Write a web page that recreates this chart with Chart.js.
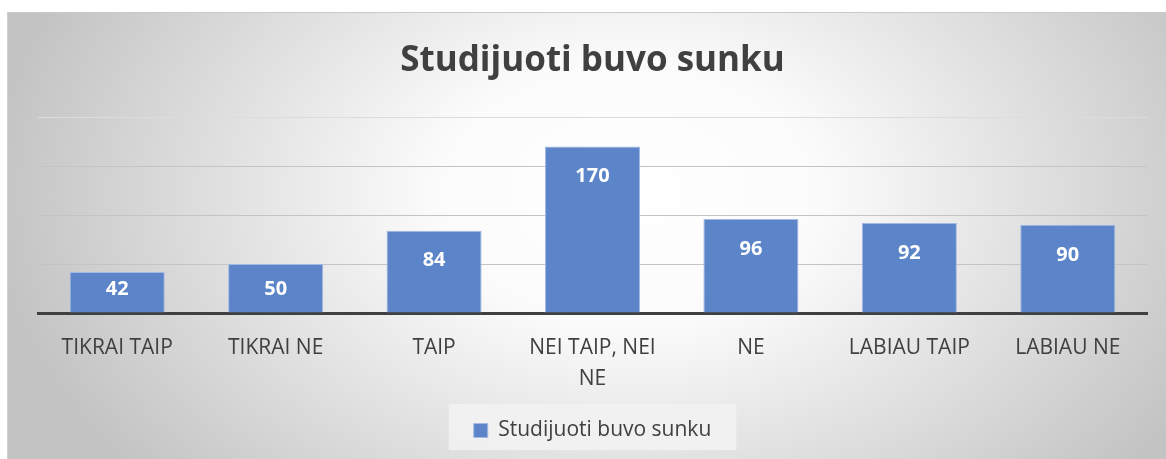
<!DOCTYPE html>
<html>
<head>
<meta charset="utf-8">
<script src="https://cdn.jsdelivr.net/npm/chart.js@4/dist/chart.umd.min.js"></script>
<style>
  html, body { margin: 0; padding: 0; background: #fff; }
  #frame {
    position: absolute; left: 7px; top: 12px; width: 1170px; height: 446px;
    border-top: 1px solid #c9c9c9; border-left: 1px solid #d0d0d0;
    background: radial-gradient(ellipse 640px 440px at 620px 180px, #ffffff 0%, #fbfbfb 30%, #c3c3c3 100%);
  }
  #wrap { position: absolute; left: 0; top: 0; width: 1166px; height: 459px; }
</style>
</head>
<body>
<div id="frame"></div>
<div id="wrap"><canvas id="chart" width="1166" height="459"></canvas></div>
<script>
/* ================= DATA ================= */
const categories = ["TIKRAI TAIP", "TIKRAI NE", "TAIP", ["NEI TAIP, NEI", "NE"], "NE", "LABIAU TAIP", "LABIAU NE"];
const seriesName = "Studijuoti buvo sunku";
const values = [42, 50, 84, 170, 96, 92, 90];
const yTicks = [0, 50, 100, 150, 200];

/* ================= STYLE ================= */
const TEXT = "#404040";
const BAR = "#5b84c9";
const FONT = "'Open Sans', 'Noto Sans', sans-serif";

/* ================= PLUGINS ================= */
// white value labels inside the top of each bar
const valueLabels = {
  id: "valueLabels",
  afterDatasetsDraw(chart) {
    const ctx = chart.ctx;
    const base = chart.scales.y.getPixelForValue(0);
    ctx.save();
    ctx.fillStyle = "#ffffff";
    ctx.font = "bold 20px " + FONT;
    ctx.textAlign = "center";
    ctx.textBaseline = "middle";
    chart.getDatasetMeta(0).data.forEach((bar, i) => {
      const y = Math.min(bar.y + 30, base - 24);
      ctx.fillText(String(values[i]), bar.x, y);
    });
    ctx.restore();
  },
};

// light box behind the legend item
const legendBox = {
  id: "legendBox",
  beforeDraw(chart) {
    const lg = chart.legend;
    if (!lg || !lg.legendHitBoxes || !lg.legendHitBoxes.length) return;
    const hb = lg.legendHitBoxes[0];
    const ctx = chart.ctx;
    ctx.save();
    ctx.fillStyle = "rgba(242,242,242,0.9)";
    ctx.fillRect(hb.left - 25, hb.top - 16, hb.width + 50, 46);
    ctx.restore();
  },
};

/* ================= CHART ================= */
new Chart(document.getElementById("chart"), {
  type: "bar",
  data: {
    labels: categories,
    datasets: [
      {
        label: seriesName,
        data: values,
        backgroundColor: BAR,
        borderColor: "#a3b9e4",
        borderWidth: 1,
        barPercentage: 0.6,
        categoryPercentage: 1,
      },
    ],
  },
  options: {
    responsive: false,
    animation: false,
    devicePixelRatio: 1,
    layout: { padding: { left: 38, right: 19, top: 0, bottom: 8 } },
    plugins: {
      title: {
        display: true,
        text: seriesName,
        color: TEXT,
        font: { family: FONT, size: 35, weight: "bold", lineHeight: 1.2 },
        padding: { top: 40, bottom: 35 },
      },
      legend: {
        display: true,
        position: "bottom",
        labels: {
          color: TEXT,
          font: { family: FONT, size: 21 },
          boxWidth: 14,
          boxHeight: 14,
          padding: 26,
        },
      },
      tooltip: { enabled: false },
    },
    scales: {
      x: {
        grid: { display: false, drawTicks: false },
        border: { display: true, color: "#404040", width: 3 },
        ticks: {
          color: TEXT,
          font: { family: FONT, size: 21, lineHeight: 1.45 },
          padding: 20,
          maxRotation: 0,
          autoSkip: false,
        },
        afterFit(scale) {
          scale.height -= 20;
        },
      },
      y: {
        min: 0,
        max: 200,
        afterBuildTicks(scale) {
          scale.ticks = yTicks.map((v) => ({ value: v }));
        },
        ticks: { display: false },
        border: { display: false },
        grid: {
          drawTicks: false,
          color: (c) => (c.tick && c.tick.value === 200 ? "#dcdcdc" : "#c4c4c4"),
          lineWidth: 1,
        },
      },
    },
  },
  plugins: [valueLabels, legendBox],
});
</script>
</body>
</html>
